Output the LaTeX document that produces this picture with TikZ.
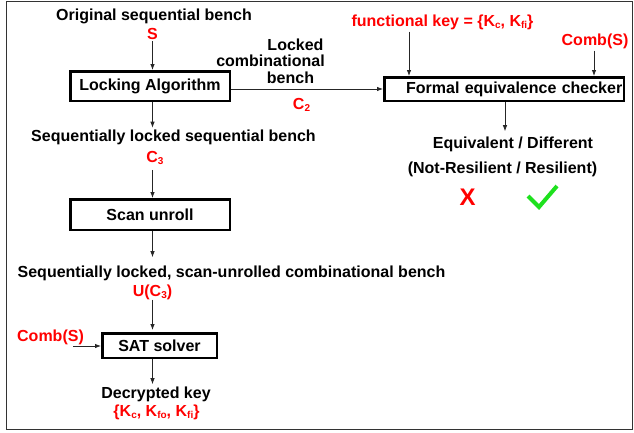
\documentclass[tikz,border=0pt]{standalone}
\usepackage{fontspec}
\setmainfont{Liberation Sans}
\usetikzlibrary{arrows.meta}
\definecolor{kred}{RGB}{255,0,0}
\definecolor{kgreen}{RGB}{30,225,30}
\newcommand{\lowsub}[1]{\raisebox{-0.3ex}{\fontsize{10}{10}\selectfont #1}}
\begin{document}
\begin{tikzpicture}[x=1pt,y=-1pt,
  txt/.style={inner sep=0pt, anchor=base, font=\fontsize{16}{18}\selectfont\bfseries},
  rtxt/.style={txt, text=kred},
  box/.style={draw, line width=2.5pt, inner sep=0pt, font=\fontsize{16}{18}\selectfont\bfseries},
  arr/.style={-{Latex[length=6pt,width=4.5pt]}, line width=0.8pt, black!85}]
\useasboundingbox (0,0) rectangle (634,432);
\draw[line width=1pt, black!80] (6,1) rectangle (632,429);

% left column
\coordinate (col) at (152.5,0);
\node[txt] (orig) at (154,20) {Original sequential bench};
\node[rtxt] (S) at (152.5,39) {S};
\node[box, minimum width=159.5, minimum height=29.5] (lock) at (150,86) {Locking Algorithm};
\node[txt] (seq1) at (173.5,141) {Sequentially locked sequential bench};
\node[rtxt] (c3) at (155,162) {C\lowsub{3}};
\node[box, minimum width=159.5, minimum height=30.5] (scan) at (150,214.5) {Scan unroll};
\node[txt] (seq2) at (231.5,277) {Sequentially locked, scan-unrolled combinational bench};
\node[rtxt] (uc3) at (152.5,296) {U(C\lowsub{3})};
\node[box, minimum width=114.5, minimum height=24.5] (sat) at (159.5,345.5) {SAT solver};
\node[rtxt] (comb2) at (50.5,341) {Comb(S)};
\coordinate (cin) at (73,346);
\node[txt] (dec) at (156,398) {Decrypted key};
\node[rtxt] (keys) at (156.5,416) {\{K\lowsub{c}, K\lowsub{fo}, K\lowsub{fi}\}};

\draw[arr, shorten <=2pt] (S.south -| col) -- (col |- lock.north);
\draw[arr, shorten >=1.5pt] (lock.south -| col) -- (col |- seq1.north);
\draw[arr, shorten <=5pt] (c3.south -| col) -- (col |- scan.north);
\draw[arr, shorten >=8pt] (scan.south -| col) -- (col |- seq2.north);
\draw[arr, shorten >=2pt] (uc3.south -| col) -- (col |- sat.north);
\draw[arr] (cin) -- (cin -| sat.west);
\draw[arr, shorten >=2pt] (sat.south -| col) -- (col |- dec.north);

% right part
\node[txt] (lk1) at (295.5,50) {Locked};
\node[txt] (lk2) at (270.5,66.5) {combinational};
\node[txt] (lk3) at (290.5,83.5) {bench};
\node[rtxt] (c2) at (301.5,109) {C\lowsub{2}};
\node[box, minimum height=23.5, text width=236.5pt, align=right, inner xsep=1.5pt] (fec) at (504,89) {Formal equivalence checker};
\node[rtxt] (fk) at (442.5,26) {functional key = \{K\lowsub{c}, K\lowsub{fi}\}};
\coordinate (fkx) at (409,0);
\node[rtxt] (comb1) at (595,45) {Comb(S)};
\node[txt] (eq) at (513,148) {Equivalent / Different};
\node[txt] (res) at (502.5,173) {(Not-Resilient / Resilient)};
\node[txt, text=kred, font=\fontsize{24}{24}\selectfont\bfseries] (xmark) at (467.5,205) {X};

\draw[arr] (lock.east |- fec.west) -- (fec.west);
\draw[arr, shorten <=2pt] (fk.south -| fkx) -- (fkx |- fec.north);
\draw[arr, shorten <=2pt] (comb1.south -| 594,0) -- (594,0 |- fec.north);
\draw[arr, shorten >=5pt] (fec.south -| 505,0) -- (505,0 |- eq.north);
\draw[kgreen, line width=4pt] (528,196) -- (539,207) -- (557,186);
\end{tikzpicture}
\end{document}
